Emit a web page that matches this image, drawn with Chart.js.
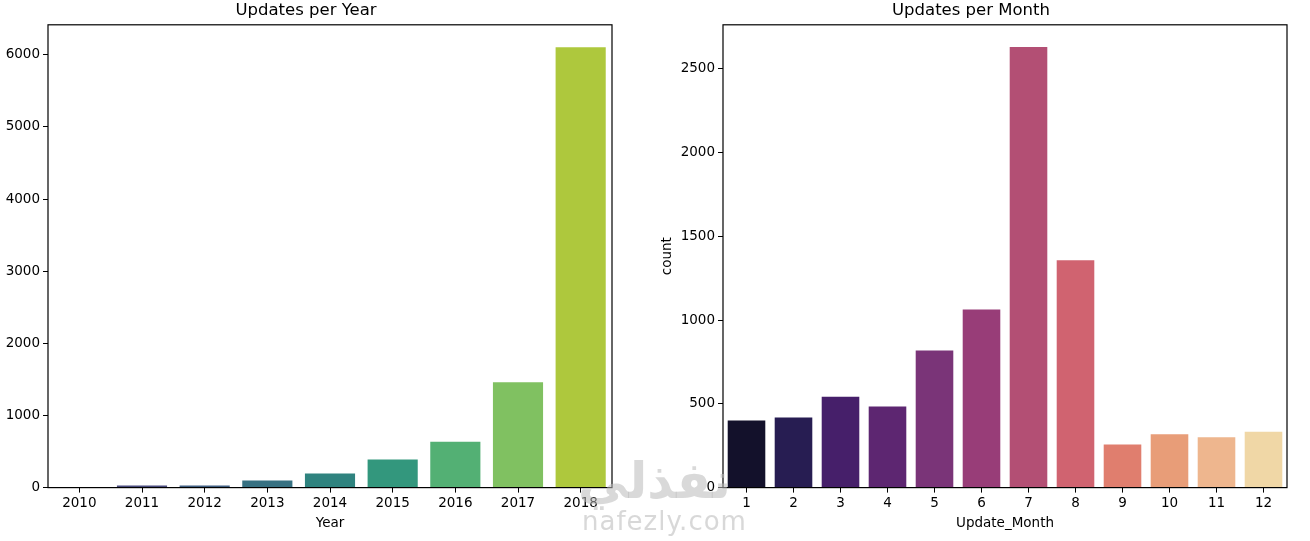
<!DOCTYPE html>
<html>
<head>
<meta charset="utf-8">
<script src="https://cdn.jsdelivr.net/npm/chart.js@4"></script>
<style>
  html, body { margin: 0; padding: 0; background: #fff; }
  #wrap { position: relative; width: 1310px; height: 541px; overflow: hidden; }
  .box { position: absolute; top: 0; width: 655px; height: 541px; }
  #wm1 { position: absolute; left: 578px; top: 452px; font: bold 50px "DejaVu Sans"; color: rgba(185,185,185,0.55); direction: rtl; }
  #wm2 { position: absolute; left: 582px; top: 506px; font: 26px "DejaVu Sans"; color: rgba(195,195,195,0.65); letter-spacing: 1px; }
</style>
</head>
<body>
<div id="wrap">
  <div class="box" style="left:0"><canvas id="yearChart"></canvas></div>
  <div class="box" style="left:655px"><canvas id="monthChart"></canvas></div>
  <div id="wm1">نفذلي</div>
  <div id="wm2">nafezly.com</div>
</div>
<script>
// data
const years = ['2010', '2011', '2012', '2013', '2014', '2015', '2016', '2017', '2018'];
const yearCounts = [1, 30, 30, 98, 195, 388, 637, 1462, 6105];
const yearColors = ['#492e6b', '#4a4c7e', '#405f82', '#377182', '#2f837f', '#33977d', '#53b074', '#80c161', '#aec83d'];
const yearTicks = [0, 1000, 2000, 3000, 4000, 5000, 6000];

const months = ['1', '2', '3', '4', '5', '6', '7', '8', '9', '10', '11', '12'];
const monthCounts = [400, 419, 543, 484, 818, 1064, 2630, 1357, 257, 318, 300, 334];
const monthColors = ['#13112b', '#271d52', '#461f6a', '#5d2671', '#7a3478', '#983d78',
                     '#b34f74', '#d06370', '#e07e6e', '#e89d78', '#eeb68e', '#f0d7a6'];
const monthTicks = [0, 500, 1000, 1500, 2000, 2500];

const font = 'DejaVu Sans';

// matplotlib style box round the plot area
const frame = {
    id: 'frame',
    afterDraw(chart) {
        const a = chart.chartArea;
        const ctx = chart.ctx;
        ctx.save();
        ctx.strokeStyle = '#000';
        ctx.lineWidth = 1.2;
        ctx.strokeRect(a.left, a.top, a.right - a.left, a.bottom - a.top);
        ctx.restore();
    }
};

function makeChart(id, labels, values, colors, opts) {
    const ctx = document.getElementById(id).getContext('2d');
    return new Chart(ctx, {
        type: 'bar',
        data: {
            labels: labels,
            datasets: [{
                data: values,
                backgroundColor: colors,
                categoryPercentage: 0.8,
                barPercentage: 1.0
            }]
        },
        options: {
            responsive: false,
            animation: false,
            layout: { padding: { left: 0, right: opts.padRight, top: 0, bottom: 5 } },
            plugins: {
                legend: { display: false },
                tooltip: { enabled: false },
                title: {
                    display: true,
                    text: opts.title,
                    color: '#000',
                    font: { family: font, size: 16.5, weight: 'normal' },
                    padding: { top: 1, bottom: 4 }
                }
            },
            scales: {
                x: {
                    grid: { offset: false, drawOnChartArea: false, drawTicks: true, tickLength: 5, color: '#000' },
                    border: { display: false },
                    ticks: { color: '#000', font: { family: font, size: 13.5 }, padding: 3, maxRotation: 0 },
                    title: { display: true, text: opts.xTitle, color: '#000', font: { family: font, size: 13.5 }, padding: { top: 1, bottom: 4 } }
                },
                y: {
                    min: 0,
                    max: opts.yMax,
                    grid: { drawOnChartArea: false, drawTicks: true, tickLength: 5, color: '#000' },
                    border: { display: false },
                    ticks: {
                        color: '#000',
                        font: { family: font, size: 13.5 },
                        padding: 3,
                        callback: v => String(v)
                    },
                    afterBuildTicks(scale) {
                        scale.ticks = opts.ticks.map(v => ({ value: v }));
                    },
                    title: { display: !!opts.yTitle, text: opts.yTitle || '', color: '#000', font: { family: font, size: 13.5 }, padding: { top: 4, bottom: 4 } },
                    afterFit(scale) { scale.width = opts.yWidth; }
                }
            }
        },
        plugins: [frame]
    });
}

document.getElementById('yearChart').width = 655;
document.getElementById('yearChart').height = 541;
document.getElementById('monthChart').width = 655;
document.getElementById('monthChart').height = 541;

makeChart('yearChart', years, yearCounts, yearColors,
    { title: 'Updates per Year', xTitle: 'Year', yMax: 6417, ticks: yearTicks, yWidth: 48, padRight: 43 });
makeChart('monthChart', months, monthCounts, monthColors,
    { title: 'Updates per Month', xTitle: 'Update_Month', yTitle: 'count', yMax: 2763, ticks: monthTicks, yWidth: 68, padRight: 23 });
</script>
</body>
</html>
